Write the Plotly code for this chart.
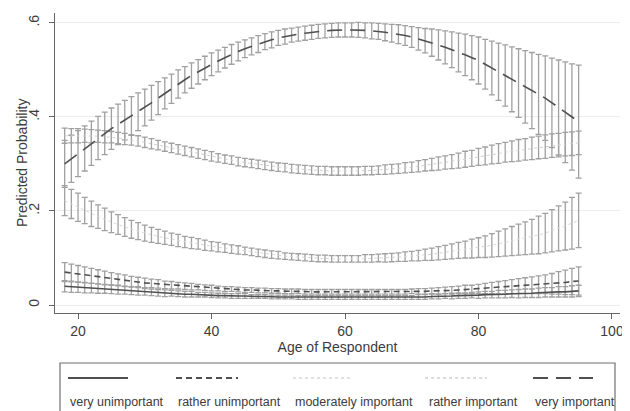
import plotly.graph_objects as go

ages = [18, 19, 20, 21, 22, 23, 24, 25, 26, 27, 28, 29, 30, 31, 32, 33, 34, 35, 36, 37,
        38, 39, 40, 41, 42, 43, 44, 45, 46, 47, 48, 49, 50, 51, 52, 53, 54, 55, 56, 57,
        58, 59, 60, 61, 62, 63, 64, 65, 66, 67, 68, 69, 70, 71, 72, 73, 74, 75, 76, 77,
        78, 79, 80, 81, 82, 83, 84, 85, 86, 87, 88, 89, 90, 91, 92, 93, 94, 95]

series_names = ["very unimportant", "rather unimportant", "moderately important",
                "rather important", "very important"]

very_unimportant = [.040, .039, .038, .037, .036, .035, .034, .033, .032, .031, .030, .029, .028, .027, .026, .025, .025, .024, .023, .023,
                    .022, .022, .021, .020, .020, .019, .019, .019, .018, .018, .018, .017, .017, .017, .017, .016, .016, .016, .016, .016,
                    .016, .016, .016, .016, .016, .016, .016, .016, .016, .016, .016, .016, .016, .017, .017, .018, .018, .019, .019, .020,
                    .020, .021, .021, .022, .022, .023, .023, .024, .024, .025, .025, .026, .027, .027, .028, .028, .029, .030]
very_unimportant_ci = [.012, .012, .011, .011, .010, .010, .009, .009, .009, .008, .008, .008, .007, .007, .007, .007, .006, .006, .006, .006,
                       .005, .005, .005, .005, .005, .005, .005, .005, .004, .004, .004, .004, .004, .004, .004, .004, .004, .004, .004, .004,
                       .004, .004, .004, .004, .004, .004, .004, .004, .004, .004, .004, .004, .004, .005, .005, .005, .005, .005, .006, .006,
                       .006, .006, .007, .007, .007, .008, .008, .008, .009, .009, .009, .010, .010, .010, .011, .011, .012, .012]

rather_unimportant = [.070, .068, .066, .064, .062, .060, .058, .056, .054, .052, .050, .049, .047, .046, .045, .043, .042, .041, .040, .039,
                      .038, .037, .036, .035, .034, .034, .033, .032, .032, .031, .031, .030, .030, .029, .029, .029, .028, .028, .028, .028,
                      .028, .028, .028, .028, .028, .028, .028, .028, .028, .028, .028, .028, .029, .029, .029, .030, .030, .031, .031, .032,
                      .033, .033, .034, .035, .036, .037, .038, .039, .040, .041, .042, .043, .044, .045, .047, .048, .050, .051]
rather_unimportant_ci = [.020, .019, .018, .017, .016, .015, .014, .013, .012, .012, .011, .010, .010, .009, .009, .008, .008, .007, .007, .007,
                         .006, .006, .006, .005, .005, .005, .005, .005, .005, .005, .005, .005, .005, .005, .005, .005, .005, .005, .005, .005,
                         .005, .005, .005, .005, .005, .005, .005, .005, .005, .005, .005, .005, .005, .006, .006, .006, .007, .007, .008, .008,
                         .009, .009, .010, .011, .012, .013, .014, .015, .016, .017, .018, .019, .020, .022, .024, .026, .028, .030]

moderately_important = [.222, .215, .208, .201, .194, .188, .182, .176, .171, .166, .161, .157, .153, .149, .146, .143, .140, .137, .134, .132,
                        .130, .127, .125, .123, .121, .119, .117, .115, .113, .111, .109, .107, .106, .104, .103, .102, .101, .100, .099, .099,
                        .098, .098, .098, .098, .098, .099, .099, .100, .100, .101, .102, .103, .104, .105, .107, .108, .110, .112, .114, .116,
                        .118, .120, .122, .124, .127, .130, .133, .136, .139, .142, .145, .149, .153, .158, .163, .168, .174, .180]
moderately_important_ci = [.032, .031, .030, .028, .027, .025, .024, .022, .021, .020, .019, .018, .017, .016, .015, .014, .013, .013, .012, .012,
                           .011, .011, .010, .010, .009, .009, .009, .008, .008, .008, .008, .008, .008, .007, .007, .007, .007, .007, .007, .007,
                           .007, .007, .007, .007, .007, .008, .008, .008, .009, .009, .009, .010, .010, .011, .012, .013, .014, .015, .016, .017,
                           .018, .020, .021, .023, .025, .027, .029, .031, .033, .035, .037, .040, .042, .045, .048, .051, .055, .058]

rather_important = [.360, .360, .360, .360, .359, .359, .358, .357, .355, .353, .351, .349, .346, .343, .340, .337, .334, .331, .328, .325,
                    .322, .319, .316, .313, .310, .308, .305, .303, .301, .299, .297, .295, .293, .292, .290, .289, .288, .287, .286, .286,
                    .285, .285, .285, .285, .285, .286, .286, .287, .288, .289, .290, .292, .293, .295, .297, .299, .301, .303, .305, .307,
                    .310, .312, .315, .317, .320, .322, .325, .327, .329, .331, .333, .335, .337, .339, .340, .342, .343, .345]
rather_important_ci = [.016, .015, .015, .014, .014, .013, .013, .012, .012, .012, .011, .011, .011, .011, .010, .010, .010, .010, .010, .010,
                       .010, .010, .010, .009, .009, .009, .009, .009, .009, .009, .009, .009, .009, .009, .009, .009, .009, .009, .009, .009,
                       .009, .009, .009, .009, .009, .009, .009, .009, .010, .010, .010, .011, .011, .012, .012, .013, .014, .014, .015, .016,
                       .017, .017, .018, .019, .020, .021, .021, .022, .023, .023, .024, .024, .025, .025, .025, .025, .025, .025]

very_important = [.300, .311, .322, .333, .344, .355, .365, .375, .384, .393, .402, .411, .420, .430, .440, .450, .460, .470, .479, .488,
                  .496, .504, .512, .519, .526, .533, .539, .545, .550, .555, .560, .564, .568, .571, .574, .576, .578, .580, .582, .583,
                  .584, .585, .585, .585, .585, .584, .583, .582, .580, .578, .576, .573, .570, .566, .562, .558, .553, .548, .543, .537,
                  .532, .526, .520, .512, .504, .496, .488, .480, .472, .464, .456, .448, .440, .430, .420, .410, .400, .390]
very_important_ci = [.050, .050, .049, .048, .047, .046, .045, .044, .043, .042, .041, .040, .039, .037, .035, .033, .031, .030, .028, .027,
                     .026, .025, .024, .023, .022, .021, .020, .019, .018, .018, .017, .017, .016, .016, .015, .015, .015, .015, .015, .015,
                     .015, .015, .015, .015, .016, .016, .017, .017, .018, .019, .020, .021, .022, .024, .026, .029, .032, .035, .038, .041,
                     .044, .047, .050, .053, .057, .061, .065, .069, .073, .077, .081, .085, .090, .095, .101, .107, .113, .120]

y_ticks = [0, 0.2, 0.4, 0.6]
y_tick_labels = ["0", ".2", ".4", ".6"]
x_ticks = [20, 40, 60, 80, 100]

FONT = "Liberation Sans, Arial, sans-serif"
TXT = "#3c3c3c"
BAR = "#a0a0a0"

styles = [
    dict(color="#505050", width=1.6, dash="solid"),
    dict(color="#505050", width=1.6, dash="6px,4px"),
    dict(color="#d8d8d8", width=1.0, dash="dot"),
    dict(color="#d0d0d0", width=1.0, dash="dot"),
    dict(color="#505050", width=1.6, dash="15px,8px"),
]
data = [
    (very_unimportant, very_unimportant_ci),
    (rather_unimportant, rather_unimportant_ci),
    (moderately_important, moderately_important_ci),
    (rather_important, rather_important_ci),
    (very_important, very_important_ci),
]

fig = go.Figure()
for (vals, ci), name in zip(data, series_names):
    fig.add_trace(go.Scatter(
        x=ages, y=vals, mode="markers", name=name, showlegend=False,
        marker=dict(size=1, color="rgba(0,0,0,0)"),
        error_y=dict(type="data", array=ci, visible=True, color=BAR, thickness=1.3, width=3),
        hoverinfo="skip",
    ))
for (vals, ci), name, st in zip(data, series_names, styles):
    fig.add_trace(go.Scatter(
        x=ages, y=vals, mode="lines", name=name, showlegend=False,
        line=st,
    ))

# page (window) coordinates; the page body has an 8px margin
OFF = 8
PAGE_W, PAGE_H = 630, 411
FIG_W, FIG_H = PAGE_W - OFF, PAGE_H - OFF
L, R, T, B = 55, 620, 13, 313
W, H = R - L, B - T

def px_x(p):
    return (p - L) / W

def px_y(p):
    return (B - p) / H

shapes = [dict(type="rect", xref="paper", yref="paper",
               x0=px_x(60), x1=px_x(615), y0=px_y(425), y1=px_y(363),
               line=dict(color="#707070", width=1.2), fillcolor="rgba(0,0,0,0)", layer="above")]
legend_x = [(68, 128), (176, 238), (293, 353), (425, 487), (533, 593)]
leg_text_x = [68, 176, 293, 427, 533]
annotations = []
for (x0, x1), tx, name, st in zip(legend_x, leg_text_x, series_names, styles):
    shapes.append(dict(type="line", xref="paper", yref="paper",
                       x0=px_x(x0), x1=px_x(x1), y0=px_y(378), y1=px_y(378),
                       line=dict(color=st["color"], width=st["width"] + 0.4, dash=st["dash"])))
    annotations.append(dict(xref="paper", yref="paper", x=px_x(tx), y=px_y(402),
                            xanchor="left", yanchor="middle", text=name, showarrow=False,
                            font=dict(family=FONT, size=12.5, color=TXT)))

annotations.append(dict(xref="paper", yref="paper", x=px_x(22), y=0.5, textangle=-90,
                        text="Predicted Probability", showarrow=False,
                        xanchor="center", yanchor="middle",
                        font=dict(family=FONT, size=14, color=TXT)))

fig.update_layout(
    width=FIG_W, height=FIG_H,
    margin=dict(l=L - OFF, r=PAGE_W - R, t=T - OFF, b=PAGE_H - B, autoexpand=False),
    paper_bgcolor="white", plot_bgcolor="white",
    font=dict(family=FONT, color=TXT),
    shapes=shapes, annotations=annotations,
    xaxis=dict(range=[16.55, 101.2], tickvals=x_ticks, ticks="outside", ticklen=5,
               tickcolor="#666", showline=True, linecolor="#666", linewidth=1.2,
               showgrid=False, zeroline=False, tickfont=dict(size=14, color=TXT),
               automargin=False,
               title=dict(text="Age of Respondent", font=dict(size=14, color=TXT), standoff=2)),
    yaxis=dict(range=[-0.017, 0.621], tickvals=y_ticks, ticktext=y_tick_labels, tickangle=-90,
               ticks="outside", ticklen=5, tickcolor="#666", showline=True, linecolor="#666",
               linewidth=1.2, showgrid=True, gridcolor="#ececec", gridwidth=1, zeroline=False,
               automargin=False,
               tickfont=dict(size=14, color=TXT), ticklabelstandoff=4),
)

fig.write_html("out.html")
